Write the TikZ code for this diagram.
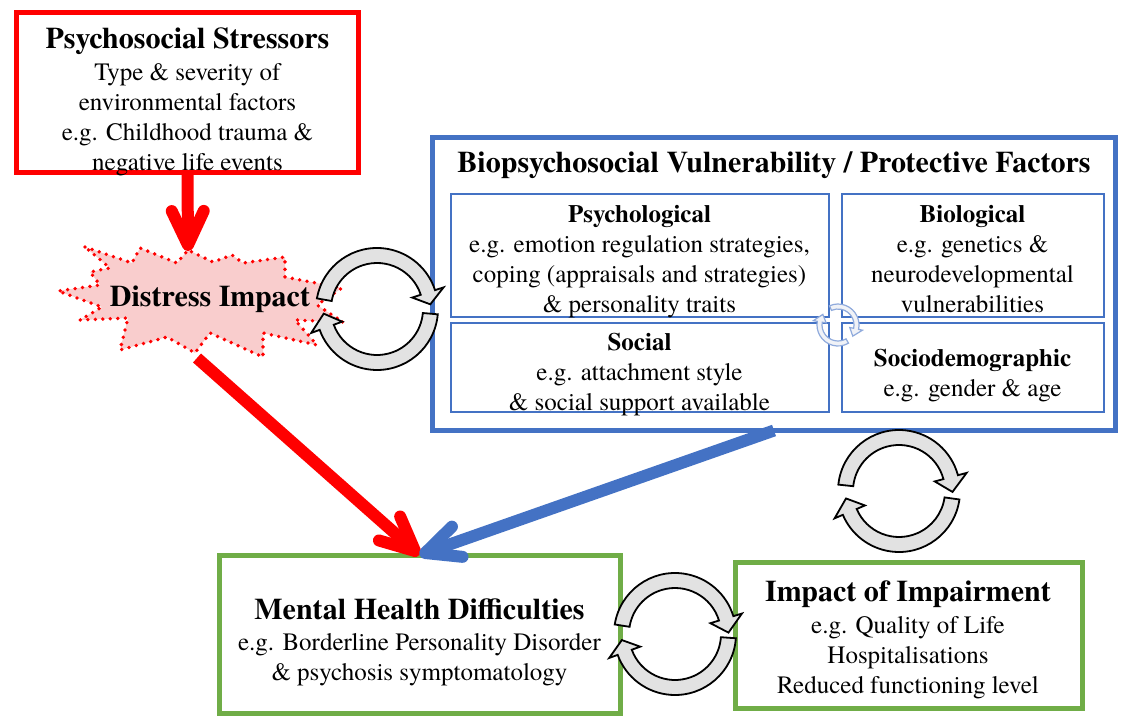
\documentclass[tikz,border=0pt]{standalone}
\usepackage{fontspec}
\IfFontExistsTF{texgyretermes-regular.otf}
  {\setmainfont{texgyretermes}[Extension=.otf, UprightFont=*-regular, BoldFont=*-bold, ItalicFont=*-italic, BoldItalicFont=*-bolditalic]}
  {\setmainfont{Liberation Serif}}
\usetikzlibrary{arrows.meta}
\definecolor{pred}{HTML}{FF0000}
\definecolor{pblue}{HTML}{4472C4}
\definecolor{pgreen}{HTML}{70AD47}
\definecolor{burstfill}{HTML}{F9CDCD}
\definecolor{cycfill}{HTML}{E2E2E2}
\definecolor{smallline}{HTML}{8FAADC}
\definecolor{smallfill}{HTML}{F0F2F7}
\newcommand\hd{\fontsize{30}{30}\selectfont\bfseries}
\newcommand\sh{\fontsize{25}{30}\selectfont\bfseries}
\newcommand\cycarc[9]{%
  \pgfmathsetmacro\cycmid{(#2+#3)/2}%
  \begin{scope}[shift={(#1)}]
    \draw[#9] (#4:#3) arc[start angle=#4, end angle=#5, radius=#3]
      -- (#5:#8) -- (#6:\cycmid) -- (#5:#7) -- (#5:#2)
      arc[start angle=#5, end angle=#4, radius=#2] -- cycle;
  \end{scope}}
\tikzset{
  box/.style={draw, inner sep=0pt, outer sep=0pt},
  redbox/.style={box, draw=pred, line width=5pt},
  bluebox/.style={box, draw=pblue, line width=5pt},
  thinbox/.style={box, draw=pblue, line width=2pt},
  greenbox/.style={box, draw=pgreen, line width=5pt},
  txt/.style={align=center, inner sep=0pt, font=\fontsize{25}{30}\selectfont},
  burst/.style={fill=burstfill, draw=pred, line width=3.8pt, line cap=round, dash pattern=on 0pt off 7.5pt},
  bigarrow/.style={line width=12pt, -{Straight Barb[length=34pt, width=32pt, round]}},
  redarrow/.style={bigarrow, draw=pred},
  bluearrow/.style={bigarrow, draw=pblue},
  cycarrow/.style={fill=cycfill, draw=black, line width=1.8pt},
  smallcyc/.style={fill=smallfill, draw=smallline, line width=1.2pt}
}
\begin{document}
\begin{tikzpicture}[x=1pt, y=1pt]
\useasboundingbox (0,0) rectangle (1123,718);
% boxes
\node[redbox, minimum width=342pt, minimum height=160pt] (stressbox) at (187.5,625.5) {};
\node[bluebox, minimum width=683pt, minimum height=293pt] (biobox) at (774,434) {};
\node[thinbox, minimum width=378pt, minimum height=123pt] (psychbox) at (639.5,462.5) {};
\node[thinbox, minimum width=262pt, minimum height=123pt] (biolbox) at (972.5,462.5) {};
\node[thinbox, minimum width=378pt, minimum height=89pt] (socialbox) at (639.5,350.5) {};
\node[thinbox, minimum width=262pt, minimum height=89pt] (sociobox) at (972.5,350.5) {};
\node[greenbox, minimum width=401pt, minimum height=158pt] (mhbox) at (419.5,84) {};
\node[greenbox, minimum width=346.5pt, minimum height=146pt] (impbox) at (908.75,83) {};
% starburst
\draw[burst] (85,471) -- (132,455) -- (140,470) -- (177,455) -- (188,468) -- (213,456)
  -- (232,463) -- (243,455) -- (285,461) -- (285,441) -- (342,430) -- (317,413)
  -- (343,396) -- (295,398) -- (317,373) -- (263,385) -- (263,361) -- (210,385)
  -- (195,365) -- (167,381) -- (120,368) -- (128,400) -- (80,398) -- (102,411)
  -- (58,427) -- (100,433) -- (90,446) -- (110,450) -- cycle;
% texts
\node[txt, anchor=north] (stresstxt) at (187.5,692) {{\hd\rule{0pt}{22pt}Psychosocial Stressors}\\[2pt]Type \& severity of\\environmental factors\\e.g. Childhood trauma \&\\negative life events};
\node[txt, anchor=base] (biotxt) at (774,545) {\hd Biopsychosocial Vulnerability / Protective Factors};
\node[txt, anchor=north] (psychtxt) at (639.5,515) {{\sh\rule{0pt}{19pt}Psychological}\\e.g. emotion regulation strategies,\\coping (appraisals and strategies)\\\& personality traits};
\node[txt, anchor=north] (bioltxt) at (972.5,515) {{\sh\rule{0pt}{19pt}Biological}\\e.g. genetics \&\\neurodevelopmental\\vulnerabilities};
\node[txt, anchor=north] (socialtxt) at (639.5,387) {{\sh\rule{0pt}{19pt}Social}\\e.g. attachment style\\\& social support available};
\node[txt, anchor=north] (sociotxt) at (972.5,371) {{\sh\rule{0pt}{19pt}Sociodemographic}\\e.g. gender \& age};
\node[txt, anchor=north] (mhtxt) at (419.5,121) {{\hd\rule{0pt}{22pt}Mental Health Difficulties}\\[1pt]e.g. Borderline Personality Disorder\\\& psychosis symptomatology};
\node[txt, anchor=north] (imptxt) at (908,139) {{\hd\rule{0pt}{22pt}Impact of Impairment}\\[2pt]e.g. Quality of Life\\Hospitalisations\\Reduced functioning level};
\node[txt, anchor=base] (distress) at (210,411) {\hd Distress Impact};
% arrows
\coordinate (dtop) at (188,467);
\coordinate (dbot) at (197,360);
\draw[redarrow] (stressbox.south) -- (dtop);
\draw[redarrow] (dbot) -- (mhbox.north);
\draw[bluearrow] (biobox.south) -- (mhbox.north);
% cycle arrows
\cycarc{377,409}{46}{61}{170}{18}{5}{37}{70}{cycarrow}
\cycarc{377,409}{46}{61}{-5}{-160}{-175}{37}{70}{cycarrow}
\cycarc{899,227}{46}{61}{174}{15}{-1}{37}{70}{cycarrow}
\cycarc{899,227}{46}{61}{-8}{-157}{-172}{37}{70}{cycarrow}
\cycarc{675,84}{46}{61}{171}{17}{1.5}{37}{70}{cycarrow}
\cycarc{675,84}{46}{61}{-4}{-160}{-173.5}{37}{70}{cycarrow}
\cycarc{838,393}{16}{21}{114}{-12}{-37}{12}{25}{smallcyc}
\cycarc{838,393}{16}{21}{-60}{-190}{-215}{12}{25}{smallcyc}
\end{tikzpicture}
\end{document}
